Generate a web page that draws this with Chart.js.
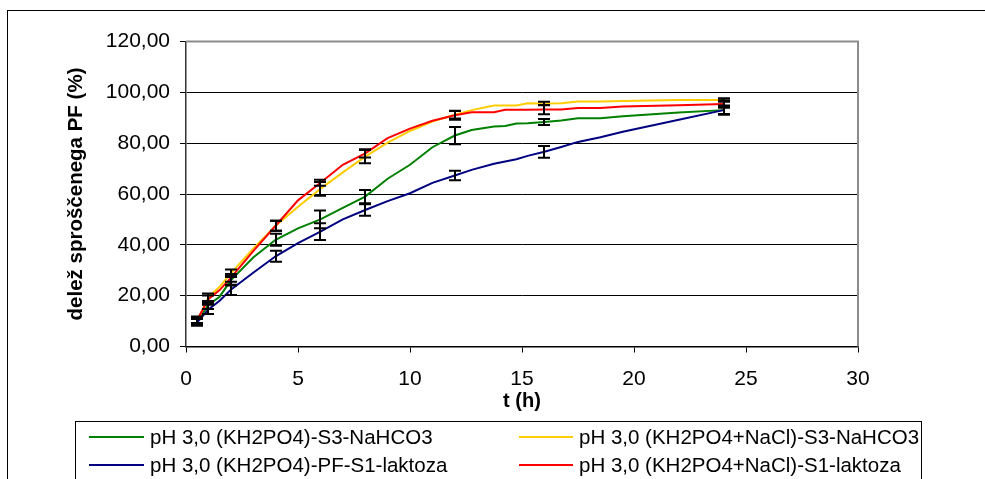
<!DOCTYPE html>
<html>
<head>
<meta charset="utf-8">
<script src="https://cdn.jsdelivr.net/npm/chart.js@4.4.0/dist/chart.umd.min.js"></script>
<style>
  html, body { margin: 0; padding: 0; background: #fff; }
  canvas { display: block; }
</style>
</head>
<body>
<canvas id="c" width="985" height="479"></canvas>
<script>
// Sampling times (h) of the release curves
const times = [0.5, 1, 1.5, 2, 3, 4, 5, 6, 7, 8, 9, 10, 11, 12, 12.75, 13.75, 14.25, 14.75, 15.25, 16, 16.75, 17.5, 18.5, 19.5, 22, 24];
// Times at which the standard deviation is shown
const errTimes = [0.5, 1, 2, 4, 6, 8, 12, 16, 24];

const seriesLabels = [
  'pH 3,0 (KH2PO4)-S3-NaHCO3',
  'pH 3,0 (KH2PO4+NaCl)-S3-NaHCO3',
  'pH 3,0 (KH2PO4)-PF-S1-laktoza',
  'pH 3,0 (KH2PO4+NaCl)-S1-laktoza'
];

// Released fraction of PF (%)
const kh2po4S3 = [10, 16.3, 19.6, 26, 35, 42, 46.5, 50, 54.5, 59, 66, 71.5, 78.4, 83, 85.2, 86.6, 86.8, 87.7, 87.8, 88.3, 88.9, 89.8, 89.8, 90.6, 92.1, 93];
const naclS3   = [10, 19.4, 23.5, 28.8, 38.5, 47.5, 55, 62, 68.5, 74.7, 80.2, 84.8, 88.5, 91.2, 93, 94.8, 94.8, 94.8, 95.7, 95.6, 95.7, 96.4, 96.4, 96.6, 97, 97];
const kh2po4S1 = [9.5, 14.6, 18, 22.3, 29, 35.5, 40.7, 45.2, 50, 53.7, 57.2, 60.3, 64.4, 67.3, 69.5, 71.9, 72.8, 73.7, 75, 76.6, 78.5, 80.5, 82.3, 84.5, 89.2, 93];
const naclS1   = [10.5, 18.6, 22.2, 27, 37.5, 47.5, 57.5, 64.4, 71.5, 76, 82, 85.7, 88.8, 91, 92.2, 92.2, 93.1, 93.1, 93.1, 93.2, 93.2, 93.8, 93.8, 94.4, 94.9, 95.4];

// Standard deviations at errTimes
const kh2po4S3Err = [1.3, 1.5, 2, 2.4, 3.5, 2.6, 3.4, 1.2, 1.5];
const naclS3Err   = [1.3, 1.5, 1.5, 2, 2.7, 2.6, 1.5, 0.7, 0.7];
const kh2po4S1Err = [1.3, 1.8, 2, 2.2, 3.3, 2.3, 1.85, 2.3, 1.8];
const naclS1Err   = [1.3, 1.5, 1.5, 2, 1.2, 1.6, 1.8, 1.8, 1.5];

const yTicks = [0, 20, 40, 60, 80, 100, 120];
const xTicks = [0, 5, 10, 15, 20, 25, 30];

const colors = ['#008000', '#FFCC00', '#000080', '#FF0000'];
const values = [kh2po4S3, naclS3, kh2po4S1, naclS1];
const errors = [kh2po4S3Err, naclS3Err, kh2po4S1Err, naclS1Err];

const FONT = "'Liberation Sans', Arial, sans-serif";

const datasets = values.map((vals, i) => ({
  label: seriesLabels[i],
  data: times.map((t, k) => ({ x: t, y: vals[k] })),
  borderColor: colors[i],
  backgroundColor: colors[i],
  borderWidth: 2,
  pointRadius: 0,
  tension: 0,
  fill: false,
  order: 4 - i,
  sd: errors[i]
}));

// Outer frame, plot border, error bars and legend box
const decorations = {
  id: 'decorations',
  beforeDraw(chart) {
    const ctx = chart.ctx;
    ctx.save();
    ctx.fillStyle = '#fff';
    ctx.fillRect(0, 0, chart.width, chart.height);
    ctx.strokeStyle = '#000';
    ctx.lineWidth = 1;
    ctx.strokeRect(7.5, 10.5, 1200, 600);
    ctx.restore();
  },
  afterDatasetsDraw(chart) {
    const ctx = chart.ctx;
    const xs = chart.scales.x, ys = chart.scales.y;
    const area = chart.chartArea;
    ctx.save();
    // plot area border (top and right)
    ctx.strokeStyle = '#8c8c8c';
    ctx.lineWidth = 2;
    ctx.beginPath();
    ctx.moveTo(area.left, area.top);
    ctx.lineTo(area.right, area.top);
    ctx.lineTo(area.right, area.bottom);
    ctx.stroke();
    // error bars
    ctx.strokeStyle = '#000';
    ctx.lineWidth = 2;
    chart.data.datasets.forEach(ds => {
      errTimes.forEach((t, j) => {
        const pt = ds.data.find(p => p.x === t);
        if (!pt) return;
        const sd = ds.sd[j];
        const px = Math.round(xs.getPixelForValue(t));
        const yTop = ys.getPixelForValue(pt.y + sd);
        const yBot = ys.getPixelForValue(pt.y - sd);
        const half = 6;
        ctx.beginPath();
        ctx.moveTo(px, yTop); ctx.lineTo(px, yBot);
        ctx.moveTo(px - half, yTop); ctx.lineTo(px + half, yTop);
        ctx.moveTo(px - half, yBot); ctx.lineTo(px + half, yBot);
        ctx.stroke();
      });
    });
    ctx.restore();
  },
  afterDraw(chart) {
    const ctx = chart.ctx;
    ctx.save();
    ctx.strokeStyle = '#000';
    ctx.lineWidth = 1;
    ctx.strokeRect(75.5, 421.5, 846, 100);
    const rows = [437, 465];
    const cols = [{ l0: 89, l1: 144, tx: 150 }, { l0: 519, l1: 573, tx: 579 }];
    ctx.font = '20.5px ' + FONT;
    ctx.textBaseline = 'middle';
    ctx.textAlign = 'left';
    chart.data.datasets.forEach((ds, i) => {
      const r = rows[Math.floor(i / 2)];
      const c = cols[i % 2];
      ctx.strokeStyle = ds.borderColor;
      ctx.lineWidth = 2;
      ctx.beginPath();
      ctx.moveTo(c.l0, r); ctx.lineTo(c.l1, r);
      ctx.stroke();
      ctx.fillStyle = '#000';
      ctx.fillText(ds.label, c.tx, r + 1);
    });
    ctx.restore();
  }
};

new Chart(document.getElementById('c'), {
  type: 'line',
  data: { datasets },
  plugins: [decorations],
  options: {
    responsive: false,
    animation: false,
    layout: { padding: { left: 0, right: 127, top: 41.5, bottom: 62.5 } },
    plugins: { legend: { display: false }, tooltip: { enabled: false } },
    scales: {
      x: {
        type: 'linear',
        min: xTicks[0],
        max: xTicks[xTicks.length - 1],
        afterFit(scale) { scale.height = 70; },
        afterBuildTicks(scale) { scale.ticks = xTicks.map(v => ({ value: v })); },
        grid: { drawOnChartArea: false, drawTicks: true, tickLength: 6, tickColor: '#000' },
        border: { display: true, color: '#000', width: 1.5 },
        ticks: { color: '#000', font: { family: FONT, size: 21 }, padding: 14, maxRotation: 0 },
        title: { display: true, text: 't (h)', color: '#000',
                 font: { family: FONT, size: 20, weight: 'bold' }, padding: { top: 0, bottom: 3 } }
      },
      y: {
        min: yTicks[0],
        max: yTicks[yTicks.length - 1],
        afterFit(scale) { scale.width = 186; },
        afterBuildTicks(scale) { scale.ticks = yTicks.map(v => ({ value: v })); },
        grid: {
          color: c => (c.tick && c.tick.value === yTicks[yTicks.length - 1]) ? 'rgba(0,0,0,0)' : '#000',
          tickColor: '#000', tickLength: 6, lineWidth: 1
        },
        border: { display: true, color: '#333', width: 1.5 },
        ticks: {
          color: '#000', font: { family: FONT, size: 21 }, padding: 10,
          callback: v => v.toFixed(2).replace('.', ',')
        },
        title: { display: true, text: 'delež sproščenega PF (%)', color: '#000',
                 font: { family: FONT, size: 20.5, weight: 'bold' }, padding: { top: 64, bottom: 0 } }
      }
    }
  }
});
</script>
</body>
</html>
